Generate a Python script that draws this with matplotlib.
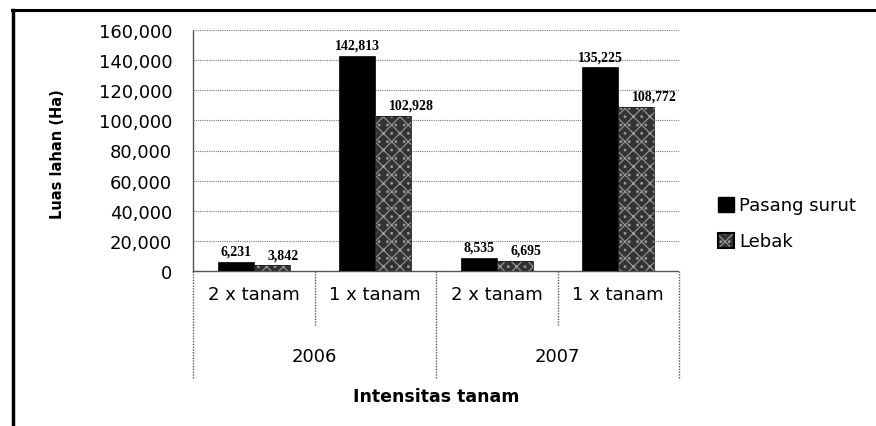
import numpy as np
import matplotlib
matplotlib.use('Agg')
import matplotlib.pyplot as plt
from matplotlib.lines import Line2D
from matplotlib.patches import Patch
import matplotlib.transforms as mtrans

# data
years = ['2006', '2007']
intensitas = ['2 x tanam', '1 x tanam', '2 x tanam', '1 x tanam']
pasang_surut = [6231, 142813, 8535, 135225]
lebak = [3842, 102928, 6695, 108772]
yticks = [0, 20000, 40000, 60000, 80000, 100000, 120000, 140000, 160000]

plt.rcParams['font.family'] = ['DejaVu Sans']
plt.rcParams['hatch.linewidth'] = 0.8
plt.rcParams['hatch.color'] = '#9a9a9a'

fig = plt.figure(figsize=(8.76, 4.27), dpi=100)
ax = fig.add_axes([193/876, 155/427, 486/876, 241/427])

x = np.arange(len(intensitas))
w = 0.296
lebak_face = '#333333'
lebak_hatch = 'xx..'
b1 = ax.bar(x - w/2, pasang_surut, w, color='black', edgecolor='black', linewidth=0.5, zorder=3)
b2 = ax.bar(x + w/2, lebak, w, facecolor=lebak_face, edgecolor='#9a9a9a', hatch=lebak_hatch,
            linewidth=0, zorder=3)
# dark outline drawn separately so the hatch keeps its gray colour
ax.bar(x + w/2, lebak, w, fill=False, edgecolor='#1a1a1a', linewidth=0.6, zorder=4)

for r, v in zip(b1, pasang_surut):
    ax.annotate(f'{v:,}', (r.get_x() + r.get_width()/2, v), xytext=(0, 3),
                textcoords='offset points', ha='center', va='bottom',
                family='Liberation Serif', fontweight='bold', fontsize=10)
for r, v in zip(b2, lebak):
    ax.annotate(f'{v:,}', (r.get_x() + r.get_width()/2, v), xytext=(-3, 3),
                textcoords='offset points', ha='left', va='bottom',
                family='Liberation Serif', fontweight='bold', fontsize=10)

ax.set_xlim(-0.5, 3.5)
ax.set_ylim(0, 160000)
ax.set_yticks(yticks)
ax.set_yticklabels([f'{t:,}' for t in yticks], fontsize=13)
ax.tick_params(axis='y', length=0, pad=15)
ax.set_xticks([])
ax.yaxis.grid(True, linestyle=(0, (1, 1)), color='#777777', linewidth=0.8, zorder=0)
ax.set_axisbelow(True)
for s in ['top', 'right']:
    ax.spines[s].set_visible(False)
for s in ['left', 'bottom']:
    ax.spines[s].set_linestyle((0, (1, 1)))
    ax.spines[s].set_color('#555555')
    ax.spines[s].set_linewidth(1.0)

# two-level category axis
tr = mtrans.blended_transform_factory(ax.transData, ax.transAxes)
for xb, depth in zip([-0.5, 0.5, 1.5, 2.5, 3.5], [-0.448, -0.228, -0.448, -0.228, -0.448]):
    ax.plot([xb, xb], [0, depth], transform=tr, clip_on=False,
            color='#555555', linestyle=(0, (1, 1)), linewidth=1.0)
for xi, lab in zip(x, intensitas):
    ax.text(xi, -0.095, lab, transform=tr, ha='center', va='center', fontsize=13)
for i, yr in enumerate(years):
    ax.text(2*i + 0.5, -0.353, yr, transform=tr, ha='center', va='center', fontsize=13)
ax.text(0.5, -0.519, 'Intensitas tanam', transform=ax.transAxes, ha='center', va='center',
        fontsize=12.5, fontweight='bold')
ax.text(-0.279, 0.49, 'Luas lahan (Ha)', transform=ax.transAxes, ha='center', va='center',
        rotation=90, fontsize=10.5, fontweight='bold')

handles = [Patch(facecolor='black', edgecolor='black'),
           (Patch(facecolor=lebak_face, edgecolor='#9a9a9a', hatch=lebak_hatch, linewidth=0),
            Patch(fill=False, edgecolor='black', linewidth=1.5))]
leg = ax.legend(handles, ['Pasang surut', 'Lebak'], loc='center left',
                bbox_to_anchor=(1.046, 0.198), frameon=False, fontsize=13,
                handlelength=0.9, handleheight=0.9, handletextpad=0.3, labelspacing=1.0)

# outer frame (top and left edges only visible)
fig.add_artist(Line2D([12/876, 1.0], [1 - 11/427, 1 - 11/427], transform=fig.transFigure,
                      color='black', linewidth=2.2))
fig.add_artist(Line2D([13/876, 13/876], [0, 1 - 11/427], transform=fig.transFigure,
                      color='black', linewidth=2.5))

fig.savefig('out.png', dpi=100)
